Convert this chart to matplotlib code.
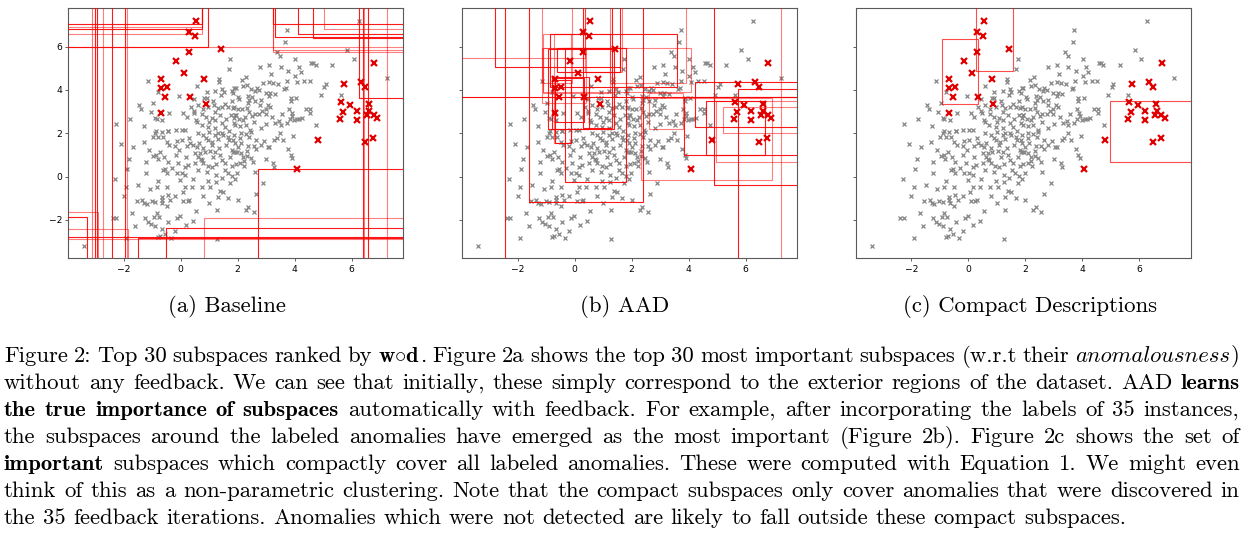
import numpy as np
import matplotlib
matplotlib.use("Agg")
import matplotlib.pyplot as plt
from matplotlib.patches import Rectangle
from matplotlib.transforms import IdentityTransform

W, H, DPI = 1244, 535, 100

# ---------------- data ----------------
pts_upper_left = [(1.73,5.43),(1.69,4.97),(-1.14,4.43),(1.36,4.49),(1.36,4.37),(0.57,4.20),(-0.78,3.90),
    (-0.04,3.74),(0.92,3.92),(1.21,3.94),(1.45,4.05),(1.51,3.90),(1.79,3.94),(1.87,4.08),(1.42,3.75),
    (0.83,3.63),(0.92,3.63),(0.46,3.60),(-0.95,3.40),(-1.45,3.29),(-1.39,3.13),(-1.05,3.00),(-1.76,2.66),
    (-2.25,2.43),(-1.27,2.36),(-0.90,2.70),(-0.84,2.64),(-0.40,2.92),(0.08,2.93),(0.35,3.20),(0.47,2.92),
    (0.46,3.05),(0.21,2.75),(0.57,2.53),(0.89,2.76),(0.78,3.13),(0.97,3.22),(1.17,3.31),(1.30,3.15),
    (1.45,3.22),(1.56,3.37),(1.67,3.22),(1.79,3.48),(1.87,3.23),(1.21,2.99),(1.40,2.83),(1.77,2.86),
    (1.91,2.86),(1.87,2.70),(1.09,2.70),(1.21,2.62),(1.45,2.47),(0.74,2.39),(0.97,2.31),(1.21,2.24),
    (1.56,2.31),(1.91,2.39),(-0.64,2.60),(-0.43,2.10),(-0.17,2.15),(0.04,2.17),(0.15,2.17),(-0.85,2.10)]

pts_upper_right = [(6.26,7.17),(3.72,6.77),(3.68,6.20),(5.85,5.83),(3.39,5.77),(3.49,5.58),(4.03,5.41),
    (6.08,5.41),(2.80,5.08),(3.10,5.14),(3.51,5.08),(3.19,4.75),(3.78,4.89),(4.14,5.05),(4.21,4.82),
    (4.58,5.23),(4.66,5.23),(4.74,5.14),(5.32,5.17),(7.23,4.55),(2.30,4.58),(2.16,4.48),(3.11,4.37),
    (3.25,4.31),(3.42,4.28),(3.74,4.41),(4.03,4.63),(4.08,4.37),(4.34,4.43),(4.53,4.43),(5.09,4.28),
    (5.03,4.12),(2.20,4.20),(2.34,4.22),(2.48,4.03),(2.67,4.09),(2.61,3.94),(2.75,3.98),(1.93,4.09),
    (1.84,3.86),(2.02,3.66),(2.38,3.71),(2.52,3.66),(2.99,3.86),(3.14,3.86),(3.30,3.83),(3.63,4.06),
    (3.69,4.08),(3.86,3.63),(4.06,3.63),(4.92,3.78),(5.62,3.75),(2.40,3.56),(2.63,3.48),(2.81,3.56),
    (3.86,3.48),(1.83,3.17),(2.00,3.10),(2.16,3.10),(2.34,3.17),(2.99,3.10),(3.08,3.29),(3.14,3.20),
    (2.87,3.02),(2.52,2.79),(2.75,2.89),(2.99,2.89),(3.22,2.74),(3.45,2.55),(3.57,2.89),(3.80,3.10),
    (3.90,2.94),(3.92,2.79),(3.83,2.67),(4.10,2.67),(4.27,2.71),(4.54,3.10),(4.56,2.92),(4.77,2.37),
    (1.93,2.86),(2.05,2.64),(2.26,2.74),(1.86,2.48),(2.10,2.32),(2.28,2.40),(2.45,2.17),(2.59,2.51),
    (2.81,2.25),(3.00,2.43),(3.33,2.48),(3.51,2.40),(3.72,2.48),(3.98,2.63),(4.15,2.67)]

pts_lower_left = [(-2.09,1.49),(-1.66,1.39),(-1.10,1.23),(-1.23,0.66),(-1.87,0.34),(-2.29,-0.10),(-1.90,-0.49),
    (-1.22,0.18),(-1.08,-0.58),(-0.78,-0.20),(-0.88,2.00),(-0.78,1.85),(-0.61,1.85),(-0.49,1.62),(-0.66,2.08),
    (-0.43,2.12),(-0.98,1.82),(-0.40,1.44),(-0.86,1.00),(-0.80,0.80),(-0.96,0.95),(-0.57,0.92),(-0.72,1.15),
    (-0.45,0.69),(-0.55,0.34),(-0.46,0.18),(-0.84,-0.46),(-0.49,-0.46),(-0.66,-0.92),(-0.45,-0.84),
    (-0.49,-1.35),(-0.14,1.64),(0.04,1.69),(-0.04,1.23),(-0.17,1.00),(-0.08,0.62),(0.04,0.15),(-0.14,0.15),
    (-0.02,-0.15),(0.07,-0.69),(0.15,-0.46),(0.25,-1.12),(0.30,-1.08),(0.09,-1.12),(0.41,-0.46),(0.33,1.54),
    (0.21,1.42),(0.44,1.46),(0.56,1.39),(0.27,0.54),(0.15,0.08),(0.62,0.92),(0.74,0.77),(0.68,1.08),
    (0.85,1.15),(0.80,0.62),(0.92,0.23),(0.77,-0.46),(0.80,-0.89),(0.97,-0.20),(1.09,0.46),(1.24,0.08),
    (1.24,-0.23),(1.44,-0.08),(1.38,-0.66),(1.50,-0.69),(1.67,-0.97),(1.30,-0.92),(1.28,-1.54),(1.65,0.15),
    (1.79,0.05),(1.73,-0.31),(1.21,1.15),(1.45,0.77),(1.56,0.62),(1.73,0.92),(1.91,1.15),(1.85,1.69),
    (1.67,1.85),(1.09,1.46),(0.97,1.69),(1.21,1.92),(1.45,2.00),(0.80,1.92),(0.64,1.54),(0.50,0.62),
    (0.15,0.46),(-0.37,-1.10),(-0.84,-1.66),(-0.93,-1.85),(-0.76,-1.85),(-0.43,-2.11),(-0.64,-2.43),
    (-0.78,-2.80),(-0.72,-2.74),(-0.55,-2.65),(-0.32,-2.85),(-0.11,-1.92),(-0.02,-1.82),(0.18,-2.23),
    (0.42,-2.05),(1.27,-2.88),(-1.25,-1.92),(-1.14,-2.08),(-1.04,-2.18),(-0.88,-2.30),(-1.71,-1.69),
    (-1.91,-2.85),(-2.38,-1.92),(-2.26,-1.92),(-3.39,-3.18),(-1.54,-1.12),(-1.34,-1.10),(-1.27,-1.23),
    (-1.19,-1.26),(-1.01,-1.12),(-0.90,-1.15),(-0.66,-1.08),(-0.64,-1.20)]

pts_lower_right = [(1.87,1.92),(2.11,2.03),(2.28,1.97),(2.40,1.85),(2.46,2.08),(2.66,1.69),(2.93,1.65),
    (3.28,1.69),(3.37,1.77),(3.59,1.68),(3.94,1.88),(2.13,1.54),(2.36,1.42),(2.57,1.42),(2.66,1.26),
    (2.81,1.46),(3.06,1.39),(3.12,1.39),(3.78,1.29),(3.86,1.00),(3.92,0.85),(1.84,1.15),(1.97,1.15),
    (2.11,1.08),(2.34,1.20),(2.34,0.95),(2.46,0.85),(2.55,0.66),(2.21,0.72),(2.08,0.62),(1.93,0.57),
    (2.22,0.51),(1.99,0.18),(1.81,0.49),(3.24,0.65),(3.28,0.43),(2.89,-0.28),(2.66,-0.81),(2.36,-1.38),
    (2.28,-1.54),(2.57,-1.63)]

pts_core = [(0.60,2.00),(0.90,1.80),(1.10,1.60),(1.30,1.75),(1.50,1.90),(1.70,2.10),(1.00,2.05),(0.80,1.30),
    (1.05,1.20),(1.35,1.30),(1.60,1.45),(1.90,1.55),(2.10,1.80),(0.50,1.10),(0.70,0.80),(1.15,0.90),
    (1.40,1.00),(1.80,1.25),(2.00,1.35),(0.30,1.80),(0.55,2.60),(0.75,2.90),(1.00,2.50),(1.30,2.00),
    (1.60,2.65),(2.20,2.60),(2.40,3.00),(2.60,2.90),(2.80,3.30),(2.35,3.40),(2.05,3.60),(1.15,3.50),
    (0.60,3.30),(1.70,1.70),(0.95,0.50),(1.25,0.60),(1.55,0.30),(2.20,0.90),(0.20,0.90),(-0.20,1.40),
    (-0.30,0.40),(0.45,-0.10),(0.60,0.30),(1.05,-0.50),(1.90,-0.10),(2.60,0.20),(-1.50,-0.40),
    (-1.80,0.80),(-2.00,-0.90),(-0.60,0.30),(-1.30,1.60),(-0.20,-0.90),(0.55,-1.60),(1.00,-1.20),
    (-1.60,-2.30),(-0.20,-2.50),(2.00,-1.10),(3.00,0.80),(3.50,2.00),(4.40,3.10),(3.10,3.70),(2.90,4.30)]

anom_x = [0.55,0.30,0.51,0.29,1.43,-0.15,0.13,-0.68,-0.68,-0.48,-0.53,0.34,0.82,0.88,-0.68,4.07,4.81,
          6.80,5.75,6.35,6.49,5.64,5.71,5.59,5.96,6.20,6.19,6.60,6.61,6.54,6.78,6.89,6.75,6.49]
anom_y = [7.17,6.69,6.49,5.77,5.88,5.34,4.78,4.49,4.08,4.12,3.66,3.69,4.52,3.35,2.92,0.37,1.71,
          5.26,4.29,4.37,4.12,3.45,3.00,2.68,3.29,3.05,2.60,3.35,3.05,2.85,2.85,2.69,1.80,1.58]

LO, HI = -50, 50   # unbounded sides of a subspace
# (x0, x1, y0, y1, alpha)
rects_baseline = [
    (LO,-3.12,LO,HI,0.55),(LO,-3.02,LO,HI,0.9),(LO,-2.92,LO,HI,0.9),(LO,-2.72,LO,HI,0.5),
    (LO,-2.41,LO,HI,0.9),(LO,-1.95,LO,HI,0.9),(LO,-1.87,LO,HI,0.5),
    (LO,0.74,7.05,HI,0.9),(LO,0.74,6.92,HI,0.5),(LO,0.74,6.80,HI,0.9),(LO,0.74,6.57,HI,0.5),
    (LO,0.97,6.00,HI,0.9),(LO,HI,6.00,HI,0.5),
    (3.23,HI,5.74,HI,0.5),(3.23,HI,5.85,HI,0.5),(3.32,HI,6.46,HI,0.9),(4.13,HI,6.57,HI,0.9),
    (4.66,HI,6.38,HI,0.9),(5.05,HI,6.80,HI,0.5),(3.23,HI,7.03,HI,0.9),
    (6.27,HI,3.62,HI,0.9),(6.39,HI,LO,HI,0.9),(6.45,HI,LO,HI,0.5),(6.57,HI,LO,HI,0.9),(7.24,HI,LO,HI,0.5),
    (LO,-2.90,LO,-1.64,0.5),(LO,-3.28,LO,-1.85,0.9),(LO,-1.85,LO,-2.43,0.5),
    (LO,HI,LO,-2.80,0.9),(LO,HI,LO,-2.89,0.5),
    (2.71,HI,LO,0.34,0.9),(0.84,HI,LO,-1.89,0.5),(-0.51,HI,LO,-2.38,0.9),(-1.48,HI,LO,-2.85,0.9)]

rects_aad = [
    (LO,-2.44,LO,HI,0.9),(-2.80,1.61,5.08,HI,0.9),(LO,0.35,5.46,HI,0.5),(LO,HI,3.66,HI,0.95),
    (-1.60,2.40,-1.15,HI,0.9),(-0.32,1.81,-0.23,5.92,0.9),(-1.11,4.07,3.92,5.92,0.5),
    (-0.85,3.60,4.12,6.60,0.9),(-0.72,-0.14,1.57,6.57,0.5),(-0.70,-0.14,1.54,4.46,0.9),
    (-0.67,0.33,2.54,4.54,0.9),(-0.78,0.50,2.18,4.58,0.9),(-0.93,1.38,2.18,5.90,0.9),
    (-1.11,1.24,3.88,6.58,0.5),(-1.13,0.39,3.38,5.92,0.5),(-0.61,1.59,4.85,5.92,0.9),
    (0.30,1.32,2.23,HI,0.9),(0.36,1.67,4.85,HI,0.5),(-1.13,-0.10,4.30,HI,0.5),(1.26,3.90,4.30,HI,0.5),
    (4.22,HI,2.31,4.35,0.9),(5.74,HI,LO,4.03,0.9),(4.89,HI,-0.38,HI,0.9),(7.23,HI,LO,HI,0.5),
    (4.63,6.70,1.00,3.49,0.9),(4.98,HI,0.69,3.49,0.5),(3.84,HI,1.00,3.69,0.9),
    (2.34,6.94,-0.15,3.62,0.5),(2.61,3.82,2.18,3.85,0.5),(5.20,HI,2.00,3.20,0.5)]

rects_compact = [(-0.91,0.35,3.35,6.35,0.7),(0.27,1.58,4.88,HI,0.7),(4.97,HI,0.69,3.49,0.7)]

panel_titles = ["(a) Baseline", "(b) AAD", "(c) Compact Descriptions"]
xticks = [-2, 0, 2, 4, 6]
yticks = [-2, 0, 2, 4, 6]
XLIM = (-3.94, 7.80)
YLIM = (-3.77, 7.77)

caption_lines = [
    [("Figure 2: Top 30 subspaces ranked by ", 'r'), (r"$\mathbf{w}{\circ}\mathbf{d}$", 'm'),
     (". Figure 2a shows the top 30 most important subspaces (w.r.t their ", 'r'),
     ("anomalousness", 'i'), (")", 'r')],
    [("without any feedback. We can see that initially, these simply correspond to the exterior regions of the dataset. AAD ", 'r'),
     ("learns", 'b')],
    [("the true importance of subspaces", 'b'),
     (" automatically with feedback. For example, after incorporating the labels of 35 instances,", 'r')],
    [("the subspaces around the labeled anomalies have emerged as the most important (Figure 2b). Figure 2c shows the set of", 'r')],
    [("important", 'b'), (" subspaces which compactly cover all labeled anomalies. These were computed with Equation 1. We might even", 'r')],
    [("think of this as a non-parametric clustering. Note that the compact subspaces only cover anomalies that were discovered in", 'r')],
    [("the 35 feedback iterations. Anomalies which were not detected are likely to fall outside these compact subspaces.", 'r')],
]

# ---------------- figure ----------------
plt.rcParams['mathtext.fontset'] = 'cm'
plt.rcParams['axes.unicode_minus'] = True
fig = plt.figure(figsize=(W / DPI, H / DPI), dpi=DPI)
renderer = fig.canvas.get_renderer()

normal = np.array(pts_upper_left + pts_upper_right + pts_lower_left + pts_lower_right + pts_core)

ax_left_px = [68.3, 462.3, 856.0]
ax_w_px, ax_top_px, ax_h_px = 334.5, 8.3, 250.0
title_cx = [227, 625, 1030]
rect_sets = [rects_baseline, rects_aad, rects_compact]

FAM = {'r': 'cmr10', 'b': 'cmb10', 'i': 'cmmi10', 'm': 'cmr10'}

for k in range(3):
    ax = fig.add_axes([ax_left_px[k] / W, 1 - (ax_top_px + ax_h_px) / H, ax_w_px / W, ax_h_px / H])
    ax.plot(normal[:, 0], normal[:, 1], 'x', color='#858585', ms=2.8, mew=0.9, zorder=2)
    for (x0, x1, y0, y1, a) in rect_sets[k]:
        ax.add_patch(Rectangle((x0, y0), x1 - x0, y1 - y0, fill=False, edgecolor='red',
                               alpha=a, lw=0.8, zorder=3))
    ax.plot(anom_x, anom_y, 'x', color='#e00000', ms=3.8, mew=1.6, zorder=4)
    ax.set_xlim(*XLIM)
    ax.set_ylim(*YLIM)
    ax.set_xticks(xticks)
    ax.set_yticks(yticks)
    ax.tick_params(labelsize=6.6, length=2.5, width=0.6, pad=2, color='#444444')
    if k > 0:
        ax.set_yticklabels([])
    for s in ax.spines.values():
        s.set_color('#5a5a5a')
        s.set_linewidth(0.8)

# ---------------- caption (justified) ----------------
def tokenize(segments):
    tokens, new_tok = [], True
    for text, st in segments:
        parts = text.split(' ')
        for i, p in enumerate(parts):
            if i > 0:
                new_tok = True
            if p == '':
                continue
            if new_tok or not tokens:
                tokens.append([(p, st)])
            else:
                tokens[-1].append((p, st))
            new_tok = False
    return tokens

def build(tokens, fs):
    out = []
    for tok in tokens:
        pcs = []
        for s, st in tok:
            t = fig.text(0, 0, s, fontsize=fs, family=FAM[st], va='baseline', ha='left',
                         transform=IdentityTransform(), color='black')
            w = t.get_window_extent(renderer).width
            pcs.append((t, w))
        out.append(pcs)
    return out

all_tokens = [tokenize(l) for l in caption_lines]
fs0 = 15.0
tmp = build(all_tokens[-1], fs0)
nat = sum(w for tok in tmp for _, w in tok) + (len(tmp) - 1) * 0.3333 * fs0 * DPI / 72
for tok in tmp:
    for t, _ in tok:
        t.remove()
target_last = 1131.7 - 4.0
fs = fs0 * target_last / nat

LEFT, RIGHT = 4.0, 1239.5
base0, step = 361.7, 27.1
for li, tokens in enumerate(all_tokens):
    built = build(tokens, fs)
    tot = sum(w for tok in built for _, w in tok)
    if li < len(all_tokens) - 1:
        gap = (RIGHT - LEFT - tot) / (len(built) - 1)
    else:
        gap = 0.3333 * fs * DPI / 72
    y = H - (base0 + li * step)
    x = LEFT
    for tok in built:
        for t, w in tok:
            t.set_position((x, y))
            x += w
        x += gap

for k in range(3):
    fig.text(title_cx[k], H - 311.7, panel_titles[k], fontsize=fs, family='cmr10', ha='center',
             va='baseline', transform=IdentityTransform())

fig.savefig('out.png', dpi=DPI)
